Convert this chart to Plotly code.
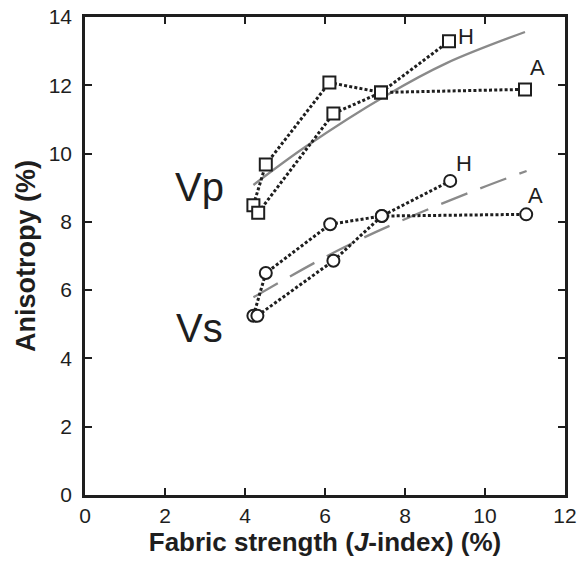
import plotly.graph_objects as go

# ---- data ----
vp_A_x = [4.21, 4.52, 6.11, 7.40, 11.00]
vp_A_y = [8.49, 9.68, 12.08, 11.79, 11.88]
vp_H_x = [4.33, 6.21, 7.40, 9.10]
vp_H_y = [8.27, 11.17, 11.79, 13.29]

vs_A_x = [4.21, 4.52, 6.13, 7.42, 11.03]
vs_A_y = [5.25, 6.50, 7.93, 8.17, 8.22]
vs_H_x = [4.31, 6.21, 7.42, 9.13]
vs_H_y = [5.25, 6.86, 8.17, 9.20]

vp_fit_x = [4.21, 5.54, 7.54, 9.04, 11.00]
vp_fit_y = [9.08, 10.22, 11.71, 12.65, 13.56]
vs_fit_x = [4.21, 6.38, 8.04, 9.88, 11.04]
vs_fit_y = [5.79, 7.20, 8.10, 8.98, 9.49]

x_ticks = [0, 2, 4, 6, 8, 10, 12]
y_ticks = [0, 2, 4, 6, 8, 10, 12, 14]

INK = "#1e1e1e"
GRAY = "#8a8a8a"
FONT = "Liberation Sans, Arial, sans-serif"

fig = go.Figure()

# fitted trends
fig.add_trace(go.Scatter(x=vp_fit_x, y=vp_fit_y, mode="lines",
                         line=dict(color=GRAY, width=2.3, shape="spline"),
                         hoverinfo="skip", showlegend=False))
fig.add_trace(go.Scatter(x=vs_fit_x, y=vs_fit_y, mode="lines",
                         line=dict(color=GRAY, width=2.3, shape="spline", dash="28px,14px"),
                         hoverinfo="skip", showlegend=False))

def series(x, y, symbol):
    fig.add_trace(go.Scatter(
        x=x, y=y, mode="lines+markers",
        line=dict(color=INK, width=3, dash="3px,2.2px"),
        marker=dict(symbol=symbol, size=12, color="white",
                    line=dict(color=INK, width=2)),
        showlegend=False))

series(vp_A_x, vp_A_y, "square")
series(vp_H_x, vp_H_y, "square")
series(vs_A_x, vs_A_y, "circle")
series(vs_H_x, vs_H_y, "circle")

annots = [
    dict(text="Vp", x=2.85, y=9.02, size=40),
    dict(text="Vs", x=2.85, y=4.90, size=40),
    dict(text="H", x=9.53, y=13.43, size=22),
    dict(text="A", x=11.3, y=12.53, size=22),
    dict(text="H", x=9.48, y=9.72, size=22),
    dict(text="A", x=11.25, y=8.78, size=22),
]
for a in annots:
    fig.add_annotation(x=a["x"], y=a["y"], xref="x", yref="y", text=a["text"],
                       showarrow=False, xanchor="center", yanchor="middle",
                       font=dict(family=FONT, size=a["size"], color=INK))

axis_common = dict(showgrid=False, zeroline=False, showline=True, linecolor=INK,
                   linewidth=2.5, mirror="ticks", ticks="inside", ticklen=7,
                   tickwidth=2, tickcolor=INK, ticklabeloverflow="allow",
                   tickfont=dict(family=FONT, size=21, color=INK))

fig.update_xaxes(range=[0, 12], tickvals=x_ticks, ticktext=[str(v) for v in x_ticks],
                 title=dict(text="<b>Fabric strength (<i>J</i>-index) (%)</b>",
                            font=dict(family=FONT, size=26, color=INK), standoff=2),
                 **axis_common)
fig.update_yaxes(range=[0, 14], tickvals=y_ticks, ticktext=[str(v) for v in y_ticks],
                 ticklabelstandoff=6,
                 title=dict(text="<b>Anisotropy (%)</b>",
                            font=dict(family=FONT, size=27, color=INK), standoff=6),
                 **axis_common)

fig.update_layout(width=582, height=568, plot_bgcolor="white", paper_bgcolor="white",
                  margin=dict(l=85, r=17, t=16.5, b=72.5, autoexpand=False),
                  showlegend=False)

# remove the default 8px page margin so the figure fills the window exactly
fig.write_html("out.html", config={"displayModeBar": False},
               post_script="document.body.style.margin='0px';")
